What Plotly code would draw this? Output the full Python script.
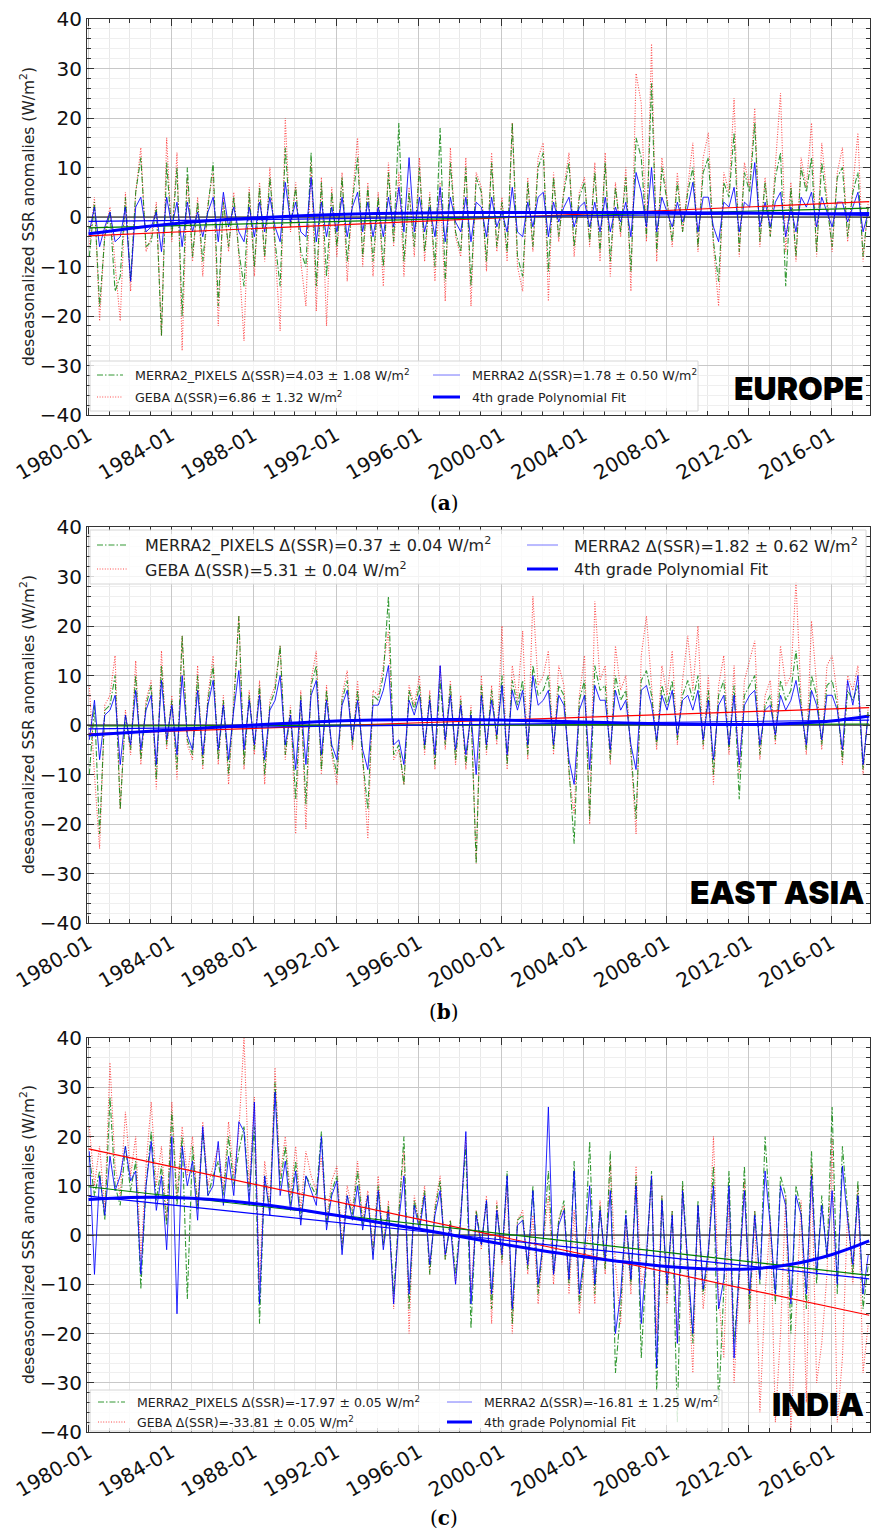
import pandas as pd
import plotly.graph_objects as go

# ---------------- data (quarterly estimates) ----------------
N = 152
dates = (pd.date_range("1980-01-01", periods=N, freq="3MS") + pd.Timedelta(days=14)).strftime("%Y-%m-%d").tolist()

eu_geba = [-6,4,-21,-3, 2,-9,-21,5, -15,5,14,-7, -4,3,-24,16, -5,13,-27,8, -9,4,-12,3, 9,-22,4,-7, 5,-8,-25,6, -12,7,-9,10, -6,-23,20,-3,
           7,-9,-18,11, -19,8,-22,6, -8,9,-13,4, 16,-10,7,-12, 5,-14,11,-6, 9,-12,6,-8, 12,-9,5,-13, 7,-17,14,-4, -8,12,-18,9, 6,-11,13,-7,
           4,-9,19,-10, -15,8,-7,12, 15,-17,9,-5, 6,13,-8,5, 8,-6,11,-9, 13,-12,7,-4, 10,-15,29,23, -5,35,-9,12, 4,-6,9,-3, 6,15,-7,12,
           17,-6,-18,9, 5,24,-8,11, 6,22,-6,8, -4,10,25,-7, 7,-9,12,6, 19,-8,15,4, -7,9,14,-5, 6,17,-9,3]
eu_pix = [-8,3,-18,-4, 1,-15,-12,4, -13,5,12,-6, -5,2,-24,11, -4,10,-20,10, -8,3,-9,2, 11,-18,3,-6, 4,-7,-14,5, -10,6,-8,8, -5,-14,14,-2,
          6,-7,-10,13, -14,7,-12,5, -6,8,-9,3, 12,-8,6,-9, 4,-10,9,-5, 19,-9,5,-6, 10,-7,4,-10, 18,-13,11,-3, -7,10,-14,8, 5,-9,11,-6,
          3,-7,19,-8, -12,7,-6,10, 13,-11,8,-4, 5,11,-6,4, 7,-5,9,-7, 11,-9,6,-3, 8,-11,16,12, -4,27,-7,10, 3,-5,7,-3, 5,10,-6,9,
          12,-5,-13,7, 4,17,-7,9, 5,19,-5,7, -4,8,13,-14, 6,-8,10,5, 12,-7,11,3, -6,8,10,-4, 5,9,-8,2]
eu_m2 = [-3,2,-6,-2, 1,-5,-4,2, -13,2,4,-3, -2,1,-7,4, -2,3,-6,3, -3,1,-4,1, 4,-5,5,-2, 2,-3,-5,2, -4,3,-3,4, -2,-5,7,-1,
         3,-3,-4,8, -5,3,-4,2, -3,4,-4,2, 5,-3,3,-4, 2,-4,4,-2, 6,-3,12,-3, 4,-3,2,-4, 6,-5,4,-1, -3,4,-5,3, 2,-4,4,-2,
         1,-3,6,-3, -4,3,-2,4, 5,-4,3,-1, 2,4,-2,2, 3,-2,3,-3, 4,-3,2,-1, 3,-4,9,5, -2,10,-3,4, 1,-2,3,-1, 2,7,-3,4,
         4,-2,-5,3, 2,6,-3,3, 2,11,-2,3, -2,3,5,-4, 2,-3,4,2, 5,-2,4,1, -2,3,3,-1, 2,5,-3,1]

ea_geba = [8,-10,-25,4, 6,14,-17,3, -6,13,-8,5, 9,-13,15,-5, 6,-11,18,-4, -7,12,-9,6, 14,-8,6,-12, 5,22,-9,7, -6,9,-12,5, 8,16,-7,4,
           -22,7,-21,9, 15,-10,8,-6, -12,6,11,-5, 9,-8,-23,7, 6,12,19,-7, -5,-12,8,4, 10,-6,7,-9, 12,-5,9,-8, 6,-9,4,-28, 10,-6,8,-4,
           20,-9,12,5, 19,-7,26,8, 10,15,-6,12, 8,-10,-18,6, 14,-20,25,9, 12,-8,16,7, 10,-6,-22,14, 22,8,-5,12, 6,15,-4,9, 18,7,20,-5,
           10,-12,8,14, -6,12,-10,9, 13,17,-7,6, 9,-4,16,8, 10,29,5,-6, 21,8,-5,12, 14,6,-8,10, 7,12,-10,4]
ea_pix = [-10,4,-22,3, 4,10,-17,2, -5,10,-7,4, 8,-11,12,-4, 5,-9,18,-3, -6,10,-8,5, 12,-7,5,-10, 4,22,-8,6, -5,8,-10,4, 7,16,-6,3,
          -15,6,-16,8, 12,-9,7,-5, -10,5,9,-4, 7,-7,-17,6, 5,10,26,-6, -4,-12,7,3, 8,-5,6,-8, 9,-4,8,-7, 5,-8,3,-28, 8,-5,7,-3,
          10,-8,9,4, 9,-6,12,6, 7,10,-5,8, 6,-9,-24,5, 9,-19,12,7, 8,-7,10,5, 7,-5,-19,9, 11,6,-4,8, 4,9,-3,6, 9,5,10,-4,
          7,-10,6,9, -5,8,-15,6, 8,10,-6,4, 6,-3,9,5, 7,15,4,-5, 10,6,-4,8, 9,4,-7,7, 5,8,-9,3]
ea_m2 = [-3,5,-7,2, 3,6,-8,2, -4,7,-5,3, 6,-8,9,-3, 4,-6,10,-2, -5,7,-6,4, 9,-5,4,-7, 3,11,-5,5, -4,6,-7,3, 5,10,-4,2,
         -9,5,-8,6, 9,-6,5,-4, -7,4,7,-3, 5,-5,-9,4, 4,7,12,-4, -3,-8,5,2, 6,-4,5,-6, 12,-3,6,-5, 4,-6,2,-10, 6,-4,5,-2,
         8,-6,7,3, 7,-4,10,4, 5,7,-4,6, 4,-7,-12,3, 6,-9,8,5, 5,-5,7,3, 5,-4,-9,7, 8,4,-3,6, 3,7,-2,5, 6,3,7,-3,
         5,-7,4,6, -4,6,-8,4, 6,7,-4,3, 4,-2,6,3, 5,9,3,-4, 7,4,-3,6, 6,3,-5,9, 4,10,-8,2]

in_geba = [22,10,18,5, 35,14,8,25, 12,20,-5,14, 27,10,18,3, 27,8,22,12, 20,6,23,10, 14,18,9,23, 12,21,40,10, 28,-10,15,6, 34,12,20,8,
           18,5,17,12, 9,16,3,11, 14,-2,10,5, 15,3,9,-3, 12,-2,7,-15, 5,17,-20,8, 2,10,-8,6, 12,-5,3,-10, 4,20,-12,5, -3,8,-18,7,
           -6,10,-20,3, 5,-8,4,-14, -2,8,-10,3, 6,-12,5,-16, -5,2,-14,7, -8,15,-6,-18, 3,-12,14,-10, -6,12,-20,8, -14,5,-22,10, -8,-28,6,-15,
           -5,20,-12,-25, 8,-30,-10,11, -18,5,-36,-12, 3,-38,-20,8, -40,-15,7,-34, 14,-30,-22,-8, 20,-38,-25,5, -10,10,-28,-18]
in_pix = [16,8,13,3, 28,10,6,18, 9,15,-11,10, 21,7,14,2, 25,6,20,-13, 18,5,21,8, 12,15,8,20, 10,17,22,8, 22,-18,12,5, 31,10,18,6,
          15,3,12,10, 8,21,2,9, 12,-3,8,4, 13,2,8,-4, 10,-2,6,-12, 4,20,-15,7, 2,9,-8,5, 11,-5,3,-8, 4,18,-19,5, -2,7,-15,6,
          -5,13,-18,3, 4,-7,10,-12, -1,13,-8,3, 7,-10,15,-14, -4,19,-12,6, -7,17,-28,-15, 5,-10,12,-25, -5,13,-32,8, -12,5,-38,11, -6,-22,7,-12,
          -4,14,-35,-10, 13,-22,-8,14, -15,5,-10,20, 3,-14,12,8, -20,10,5,-15, 17,-10,8,-5, 26,-12,18,5, -8,11,-15,-6]
in_m2 = [17,-8,12,4, 16,9,12,18, 11,13,-8,10, 19,5,12,-3, 20,-16,18,10, 15,3,22,8, 10,19,6,16, 8,23,21,6, 27,-14,12,4, 29,8,15,5,
         13,2,12,9, 6,20,1,8, 11,-4,8,3, 10,1,8,-5, 9,-3,5,-14, 3,12,-12,6, 1,8,-6,4, 9,-4,2,-10, 3,21,-14,4, -2,7,-12,5,
         -4,12,-15,2, 3,-6,9,-10, -1,26,-8,2, 5,-9,13,-12, -3,10,-10,5, -5,9,-20,-12, 4,-9,10,-18, -4,12,-27,7, -10,4,-22,9, -5,-20,6,-11,
         -3,10,-15,-9, 10,-25,-7,9, -12,4,-9,13, 2,-12,10,6, -14,8,4,-12, 12,-8,6,-4, 9,-10,14,3, -6,8,-12,-4]

# linear trend end points (start, end)
trend_dates = ["1980-01-01", "2017-11-01"]
eu_trend_geba, eu_trend_pix, eu_trend_m2 = [-3.8, 3.1], [-2.2, 1.8], [-0.9, 0.9]
ea_trend_geba, ea_trend_pix, ea_trend_m2 = [-1.8, 3.5], [-0.2, 0.2], [-0.8, 1.0]
in_trend_geba, in_trend_pix, in_trend_m2 = [17.5, -16.3], [9.8, -8.2], [7.9, -8.9]

# 4th-order polynomial fit, read every two years
poly_dates = [f"{y}-01-01" for y in range(1980, 2017, 2)] + ["2017-11-01"]
eu_poly = [-3.4, -2.3, -1.4, -0.7, -0.2, 0.2, 0.5, 0.7, 0.8, 0.9, 0.9, 0.9, 0.9, 0.9, 0.9, 0.8, 0.8, 0.7, 0.6, 0.5]
ea_poly = [-2.0, -1.5, -1.0, -0.5, 0.0, 0.4, 0.8, 1.0, 1.1, 1.1, 1.0, 0.8, 0.6, 0.4, 0.2, 0.1, 0.1, 0.3, 0.8, 1.8]
in_poly = [7.2, 7.6, 7.6, 7.2, 6.4, 5.3, 4.0, 2.6, 1.2, -0.3, -1.8, -3.2, -4.4, -5.5, -6.4, -6.9, -6.9, -6.0, -4.0, -1.2]

# legend statistics and labels
delta_pix = ["4.03 ± 1.08", "0.37 ± 0.04", "-17.97 ± 0.05"]
delta_m2 = ["1.78 ± 0.50", "1.82 ± 0.62", "-16.81 ± 1.25"]
delta_geba = ["6.86 ± 1.32", "5.31 ± 0.04", "-33.81 ± 0.05"]
regions = ["EUROPE", "EAST ASIA", "INDIA"]
captions = ["a", "b", "c"]
x_range = ["1979-12-05", "2017-11-15"]

panels = [
    dict(geba=eu_geba, pix=eu_pix, m2=eu_m2, tg=eu_trend_geba, tp=eu_trend_pix, tm=eu_trend_m2, poly=eu_poly),
    dict(geba=ea_geba, pix=ea_pix, m2=ea_m2, tg=ea_trend_geba, tp=ea_trend_pix, tm=ea_trend_m2, poly=ea_poly),
    dict(geba=in_geba, pix=in_pix, m2=in_m2, tg=in_trend_geba, tp=in_trend_pix, tm=in_trend_m2, poly=in_poly),
]

# ---------------- layout geometry (pixels) ----------------
W, H = 873, 1531
X0, X1 = 87, 870
PANEL_Y = [(19, 415), (527, 923), (1038, 1432)]
LEG_ROWS = [(375, 397), (545, 569), (1402, 1422)]
LEG_BOX = [(90, 698, 361, 411), (90, 866, 530, 584), (90, 722, 1390, 1431)]
LEG_SAMPLE0 = [(97, 123, 133), (97, 128, 143), (98, 125, 135)]
LEG_SAMPLE1 = [(433, 460, 470), (527, 558, 572), (447, 472, 482)]
LEG_FONT = [12.7, 16, 12.5]
REG_Y = [388, 892, 1404]
CAP_Y = [503, 1012, 1518]

def px(x):
    return x / W

def py(y):
    return 1 - y / H

fig = go.Figure()
GREEN = "rgba(0,128,0,0.8)"
RED = "rgba(255,0,0,0.7)"
BLUE = "rgba(0,0,255,0.85)"
STY_PIX = dict(color=GREEN, width=1.1, dash="6px,2px,1.5px,2px")
STY_GEBA = dict(color=RED, width=1.1, dash="1px,1.6px")
STY_M2 = dict(color=BLUE, width=1)
STY_POLY = dict(color="#0000ff", width=3)

for i, p in enumerate(panels):
    sfx = "" if i == 0 else str(i + 1)
    xa, ya = "x" + sfx, "y" + sfx
    # zero line
    fig.add_trace(go.Scatter(x=x_range, y=[0, 0], mode="lines", xaxis=xa, yaxis=ya, showlegend=False,
                             line=dict(color="black", width=1), hoverinfo="skip"))
    fig.add_trace(go.Scatter(x=dates, y=p["geba"], mode="lines", xaxis=xa, yaxis=ya, showlegend=False,
                             name=f"GEBA Δ(SSR)={delta_geba[i]} W/m<sup>2</sup>", line=STY_GEBA))
    fig.add_trace(go.Scatter(x=dates, y=p["pix"], mode="lines", xaxis=xa, yaxis=ya, showlegend=False,
                             name=f"MERRA2_PIXELS Δ(SSR)={delta_pix[i]} W/m<sup>2</sup>", line=STY_PIX))
    fig.add_trace(go.Scatter(x=dates, y=p["m2"], mode="lines", xaxis=xa, yaxis=ya, showlegend=False,
                             name=f"MERRA2 Δ(SSR)={delta_m2[i]} W/m<sup>2</sup>", line=STY_M2))
    for tr, col in ((p["tg"], "#ff0000"), (p["tp"], "#008000"), (p["tm"], "#0000ff")):
        fig.add_trace(go.Scatter(x=trend_dates, y=tr, mode="lines", xaxis=xa, yaxis=ya, showlegend=False,
                                 line=dict(color=col, width=1.2), hoverinfo="skip"))
    fig.add_trace(go.Scatter(x=poly_dates, y=p["poly"], mode="lines", xaxis=xa, yaxis=ya, showlegend=False,
                             name="4th grade Polynomial Fit", line=dict(STY_POLY, shape="spline")))

    y_top, y_bot = PANEL_Y[i]
    fig.update_layout({
        "xaxis" + sfx: dict(
            type="date", domain=[px(X0), px(X1)], anchor=ya, range=x_range, automargin=False,
            tick0="1980-01-01", dtick="M48", tickformat="%Y-%m", tickangle=-30,
            ticks="inside", ticklen=7, tickwidth=1, tickcolor="#333",
            showline=True, linecolor="#333", linewidth=1, mirror="allticks",
            showgrid=True, gridcolor="#c8c8c8", gridwidth=1, zeroline=False,
            minor=dict(dtick="M12", tick0="1980-01-01", ticks="inside", ticklen=4, tickcolor="#333",
                       showgrid=True, gridcolor="#e8e8e8"),
            tickfont=dict(family="DejaVu Sans", size=20, color="#111")),
        "yaxis" + sfx: dict(
            domain=[py(y_bot), py(y_top)], anchor=xa, range=[-40, 40], tick0=0, dtick=10, automargin=False,
            ticks="inside", ticklen=7, tickwidth=1, tickcolor="#333",
            showline=True, linecolor="#333", linewidth=1, mirror="allticks",
            showgrid=True, gridcolor="#c8c8c8", gridwidth=1, zeroline=False,
            minor=dict(dtick=2, ticks="inside", ticklen=4, tickcolor="#333", showgrid=True, gridcolor="#efefef"),
            tickfont=dict(family="DejaVu Sans", size=20, color="#111")),
    })

    # legend box drawn inside the axes
    bx0, bx1, by0, by1 = LEG_BOX[i]
    fig.add_shape(type="rect", xref="paper", yref="paper", x0=px(bx0), x1=px(bx1), y0=py(by1), y1=py(by0),
                  fillcolor="rgba(255,255,255,0.8)", line=dict(color="#d6d6d6", width=1), layer="above")
    entries = [
        (LEG_SAMPLE0[i], LEG_ROWS[i][0], STY_PIX, f"MERRA2_PIXELS Δ(SSR)={delta_pix[i]} W/m<sup>2</sup>"),
        (LEG_SAMPLE1[i], LEG_ROWS[i][0], dict(color="rgba(60,60,255,0.7)", width=1), f"MERRA2 Δ(SSR)={delta_m2[i]} W/m<sup>2</sup>"),
        (LEG_SAMPLE0[i], LEG_ROWS[i][1], STY_GEBA, f"GEBA Δ(SSR)={delta_geba[i]} W/m<sup>2</sup>"),
        (LEG_SAMPLE1[i], LEG_ROWS[i][1], STY_POLY, "4th grade Polynomial Fit"),
    ]
    for (sx0, sx1, tx), ry, sty, label in entries:
        fig.add_shape(type="line", xref="paper", yref="paper", x0=px(sx0), x1=px(sx1), y0=py(ry), y1=py(ry),
                      line=sty, layer="above")
        fig.add_annotation(x=px(tx), y=py(ry), xref="paper", yref="paper", xanchor="left", yanchor="middle",
                           text=label, showarrow=False,
                           font=dict(family="DejaVu Sans", size=LEG_FONT[i], color="#222"))

    fig.add_annotation(x=px(27), y=py((y_top + y_bot) / 2), xref="paper", yref="paper", textangle=-90,
                       xanchor="center", yanchor="middle",
                       text="deseasonalized SSR anomalies (W/m<sup>2</sup>)", showarrow=False,
                       font=dict(family="DejaVu Sans", size=15.5, color="#222"))
    fig.add_annotation(x=px(866), y=py(REG_Y[i]), xref="paper", yref="paper", xanchor="right", yanchor="middle",
                       text=regions[i], showarrow=False,
                       font=dict(family="Inter, DejaVu Sans", size=32, color="black", weight=900))
    fig.add_annotation(x=px(444), y=py(CAP_Y[i]), xref="paper", yref="paper", xanchor="center", yanchor="middle",
                       text=f"(<b>{captions[i]}</b>)", showarrow=False,
                       font=dict(family="DejaVu Serif", size=20, color="black"))

fig.update_layout(width=W, height=H, margin=dict(l=0, r=0, t=0, b=0, autoexpand=False),
                  paper_bgcolor="white", plot_bgcolor="white", showlegend=False)

fig.write_html("out.html")
